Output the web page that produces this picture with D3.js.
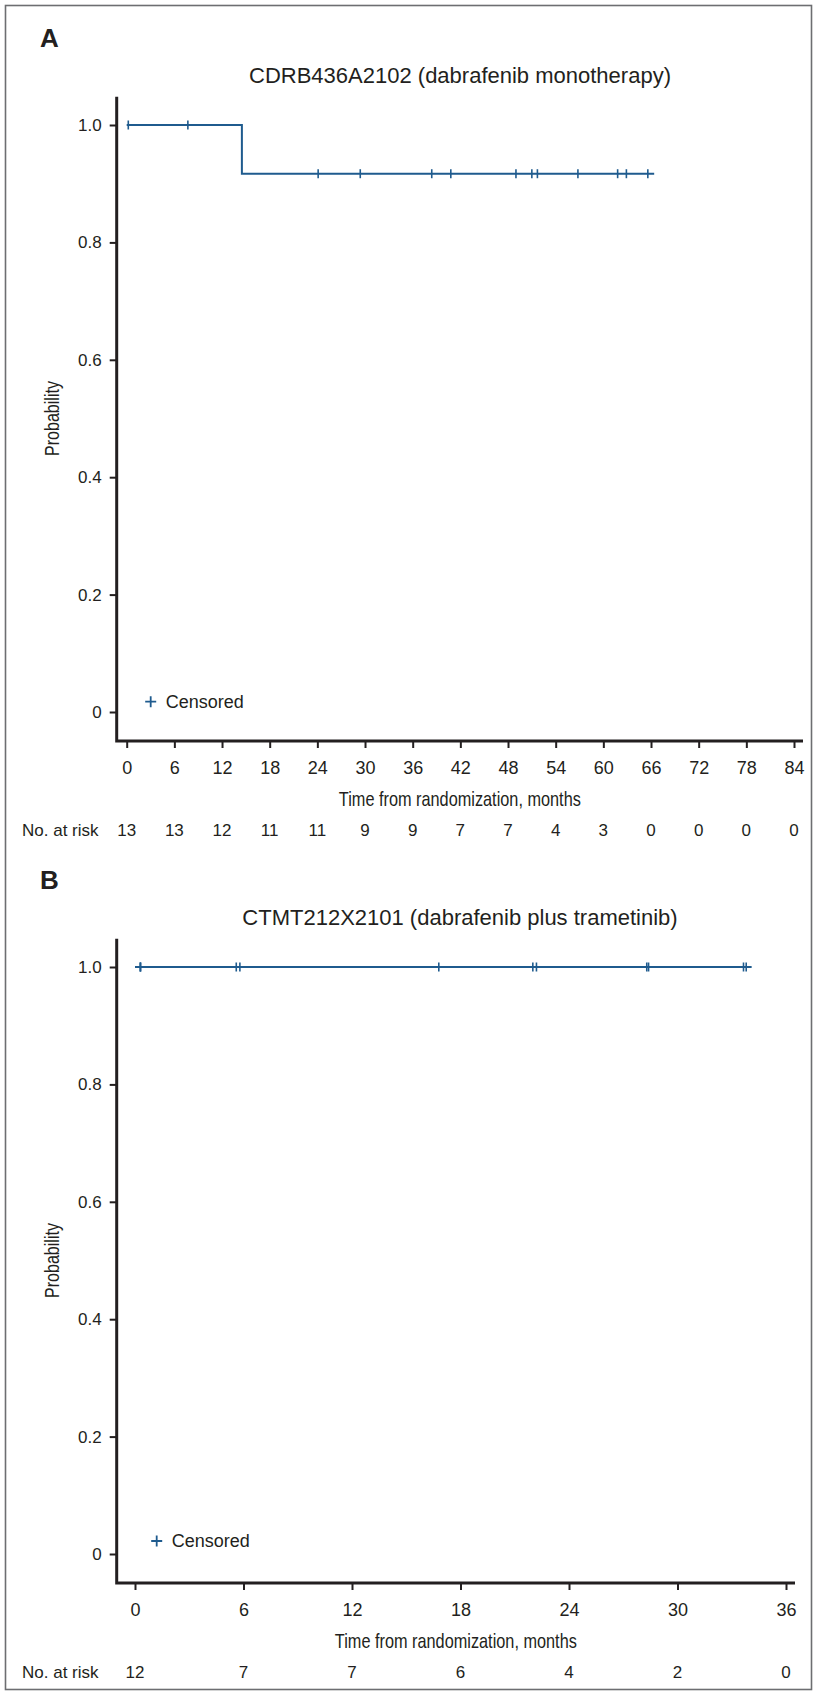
<!DOCTYPE html>
<html><head><meta charset="utf-8">
<script src="https://cdn.jsdelivr.net/npm/d3@7"></script>
<style>
html,body{margin:0;padding:0;background:#fff;}
svg{display:block;}
</style></head><body>
<svg id="chart" width="813" height="1692"></svg>
<script>
// ---------- Data ----------
const yTicks = [0, 0.2, 0.4, 0.6, 0.8, 1.0];
const yTickLabels = ["0", "0.2", "0.4", "0.6", "0.8", "1.0"];

// Panel A
const labelA = "A";
const titleA = "CDRB436A2102 (dabrafenib monotherapy)";
const xTicksA = [0, 6, 12, 18, 24, 30, 36, 42, 48, 54, 60, 66, 72, 78, 84];
const atRiskA = [13, 13, 12, 11, 11, 9, 9, 7, 7, 4, 3, 0, 0, 0, 0];
const stepTimesA = [0, 14.5];
const stepSurvA = [1.0, 0.917];
const endTimeA = 66.4;
const censorTimesA = [0.2, 7.7, 24.1, 29.4, 38.4, 40.8, 49.0, 51.0, 51.7, 56.8, 61.8, 62.9, 65.6];

// Panel B
const labelB = "B";
const titleB = "CTMT212X2101 (dabrafenib plus trametinib)";
const xTicksB = [0, 6, 12, 18, 24, 30, 36];
const atRiskB = [12, 7, 7, 6, 4, 2, 0];
const stepTimesB = [0];
const stepSurvB = [1.0];
const endTimeB = 34.1;
const censorTimesB = [0.3, 0.3, 0.3, 5.6, 5.8, 16.8, 22.0, 22.2, 28.3, 28.4, 33.65, 33.8];

const xAxisTitle = "Time from randomization, months";
const yAxisTitle = "Probability";
const riskLabel = "No. at risk";
const legendLabel = "Censored";

// ---------- Styles ----------
const BLUE = "#1f5b8e";
const INK = "#231f20";
const FONT = "'Liberation Sans', Arial, Helvetica, sans-serif";

const svg = d3.select("#chart");

// border
svg.append("rect")
  .attr("x", 5.5).attr("y", 5.5).attr("width", 806).attr("height", 1684)
  .attr("fill", "none").attr("stroke", "#6d6e71").attr("stroke-width", 1.6);

function drawPanel(cfg) {
  const g = svg.append("g").attr("transform", `translate(0,${cfg.dy})`);
  const axisX = 116.7, axisTop = 96.7, xAxisY = 741;
  const x = d3.scaleLinear().domain(cfg.xDomain).range(cfg.xRange);
  const y = d3.scaleLinear().domain([0, 1]).range([712, 125]);

  // panel letter
  g.append("text").attr("x", 40).attr("y", 47)
    .attr("font-family", FONT).attr("font-weight", "bold").attr("font-size", 26)
    .attr("fill", INK).text(cfg.label);
  // title
  g.append("text").attr("x", 460).attr("y", 83).attr("text-anchor", "middle")
    .attr("font-family", FONT).attr("font-size", 22).attr("fill", INK).text(cfg.title);

  // y axis
  const yAxis = d3.axisLeft(y).tickValues(yTicks)
    .tickFormat((d, i) => yTickLabels[i]).tickSize(7).tickPadding(8);
  const ya = g.append("g").attr("transform", `translate(${axisX},0)`).call(yAxis);
  ya.select(".domain").remove();
  ya.selectAll(".tick line").attr("stroke", INK).attr("stroke-width", 2);
  ya.selectAll(".tick text").attr("font-family", FONT).attr("font-size", 17).attr("fill", INK);

  // x axis
  const xAxis = d3.axisBottom(x).tickValues(cfg.xTicks).tickSize(7).tickPadding(13);
  const xa = g.append("g").attr("transform", `translate(0,${xAxisY})`).call(xAxis);
  xa.select(".domain").remove();
  xa.selectAll(".tick line").attr("stroke", INK).attr("stroke-width", 2);
  xa.selectAll(".tick text").attr("font-family", FONT).attr("font-size", 18).attr("fill", INK);

  // axis lines
  g.append("path")
    .attr("d", `M${axisX},${axisTop}V${xAxisY}H${cfg.xRange[1] + 9}`)
    .attr("fill", "none").attr("stroke", INK).attr("stroke-width", 3)
    .attr("stroke-linejoin", "miter");

  // axis titles (condensed lettering)
  g.append("text").attr("transform", `translate(52,${(y(0) + y(1)) / 2}) rotate(-90)`)
    .attr("text-anchor", "middle").attr("dominant-baseline", "central")
    .attr("font-family", FONT).attr("font-size", 20).attr("fill", INK)
    .attr("textLength", 75).attr("lengthAdjust", "spacingAndGlyphs").text(yAxisTitle);
  g.append("text").attr("x", (axisX + cfg.xRange[1] + 9) / 2).attr("y", 798)
    .attr("text-anchor", "middle").attr("dominant-baseline", "central")
    .attr("font-family", FONT).attr("font-size", 21).attr("fill", INK)
    .attr("textLength", 242).attr("lengthAdjust", "spacingAndGlyphs").text(xAxisTitle);

  // at risk row
  g.append("text").attr("x", 22).attr("y", 830).attr("dominant-baseline", "central")
    .attr("font-family", FONT).attr("font-size", 17).attr("fill", INK).text(riskLabel);
  g.selectAll(".risk").data(cfg.atRisk).enter().append("text")
    .attr("x", (d, i) => x(cfg.xTicks[i])).attr("y", 830)
    .attr("text-anchor", "middle").attr("dominant-baseline", "central")
    .attr("font-family", FONT).attr("font-size", 17).attr("fill", INK).text(d => d);

  // KM step curve
  const pts = cfg.stepTimes.map((t, i) => [t, cfg.stepSurv[i]]);
  pts.push([cfg.endTime, cfg.stepSurv[cfg.stepSurv.length - 1]]);
  const line = d3.line().x(d => x(d[0])).y(d => y(d[1])).curve(d3.curveStepAfter);
  g.append("path").attr("d", line(pts)).attr("fill", "none")
    .attr("stroke", BLUE).attr("stroke-width", 2);

  const survAt = t => {
    let s = cfg.stepSurv[0];
    cfg.stepTimes.forEach((st, i) => { if (st <= t) s = cfg.stepSurv[i]; });
    return s;
  };
  g.selectAll(".cens").data(cfg.censorTimes).enter().append("line")
    .attr("x1", d => x(d)).attr("x2", d => x(d))
    .attr("y1", d => y(survAt(d)) - 4.5).attr("y2", d => y(survAt(d)) + 4.5)
    .attr("stroke", BLUE).attr("stroke-width", 1.6);

  // legend
  const lx = cfg.legendX, ly = cfg.legendY;
  g.append("path").attr("d", `M${lx - 5.5},${ly}H${lx + 5.5}M${lx},${ly - 5.5}V${ly + 5.5}`)
    .attr("stroke", BLUE).attr("stroke-width", 1.8).attr("fill", "none");
  g.append("text").attr("x", lx + 15).attr("y", ly).attr("dominant-baseline", "central")
    .attr("font-family", FONT).attr("font-size", 18).attr("fill", INK).text(legendLabel);
}

drawPanel({
  dy: 0, label: labelA, title: titleA, xDomain: [0, 84], xRange: [126.7, 794],
  xTicks: xTicksA, atRisk: atRiskA, stepTimes: stepTimesA, stepSurv: stepSurvA,
  endTime: endTimeA, censorTimes: censorTimesA, legendX: 150.7, legendY: 701.7
});
drawPanel({
  dy: 842, label: labelB, title: titleB, xDomain: [0, 36], xRange: [135, 786],
  xTicks: xTicksB, atRisk: atRiskB, stepTimes: stepTimesB, stepSurv: stepSurvB,
  endTime: endTimeB, censorTimes: censorTimesB, legendX: 156.7, legendY: 699
});
</script>
</body></html>
